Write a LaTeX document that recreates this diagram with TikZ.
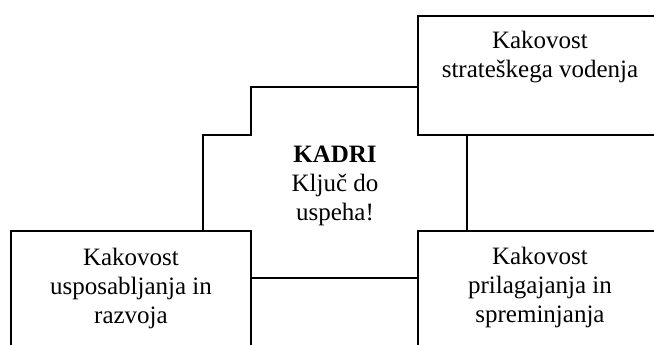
\documentclass[tikz,border=0pt]{standalone}
\usepackage{fontspec}
\setmainfont{Liberation Serif}
\begin{document}
\begin{tikzpicture}[x=1pt,y=-1pt,
  frame/.style={draw,line width=1.5pt},
  edge/.style={line width=1.5pt},
  label/.style={anchor=north,inner sep=0pt,align=center,
    font=\fontsize{25}{29}\selectfont}]
\useasboundingbox (0,0) rectangle (654,345);
\clip (0,0) rectangle (654,345);
% the three quality boxes (right and lower edges run off the page)
\path[frame] (418,16) rectangle (664,135);
\path[frame] (11,231) rectangle (251,360);
\path[frame] (418,231) rectangle (664,360);
% outline of the central shape
\coordinate (c1) at (418,87);
\coordinate (c2) at (251,87);
\coordinate (c3) at (251,135);
\coordinate (c4) at (203,135);
\coordinate (c5) at (203,231);
\coordinate (c6) at (467,135);
\coordinate (c7) at (467,231);
\coordinate (c8) at (251,278);
\coordinate (c9) at (418,278);
\draw[edge] (c1) -- (c2) -- (c3) -- (c4) -- (c5);
\draw[edge] (c6) -- (c7);
\draw[edge] (c8) -- (c9);
% texts
\node[label] (ttr) at (540,31) {Kakovost\\strateškega vodenja};
\node[label] (tbl) at (131,248) {Kakovost\\usposabljanja in\\razvoja};
\node[label] (tbr) at (540,247) {Kakovost\\prilagajanja in\\spreminjanja};
\node[label] (tc) at (335,146) {\textbf{KADRI}\\Ključ do\\uspeha!};
\end{tikzpicture}
\end{document}
